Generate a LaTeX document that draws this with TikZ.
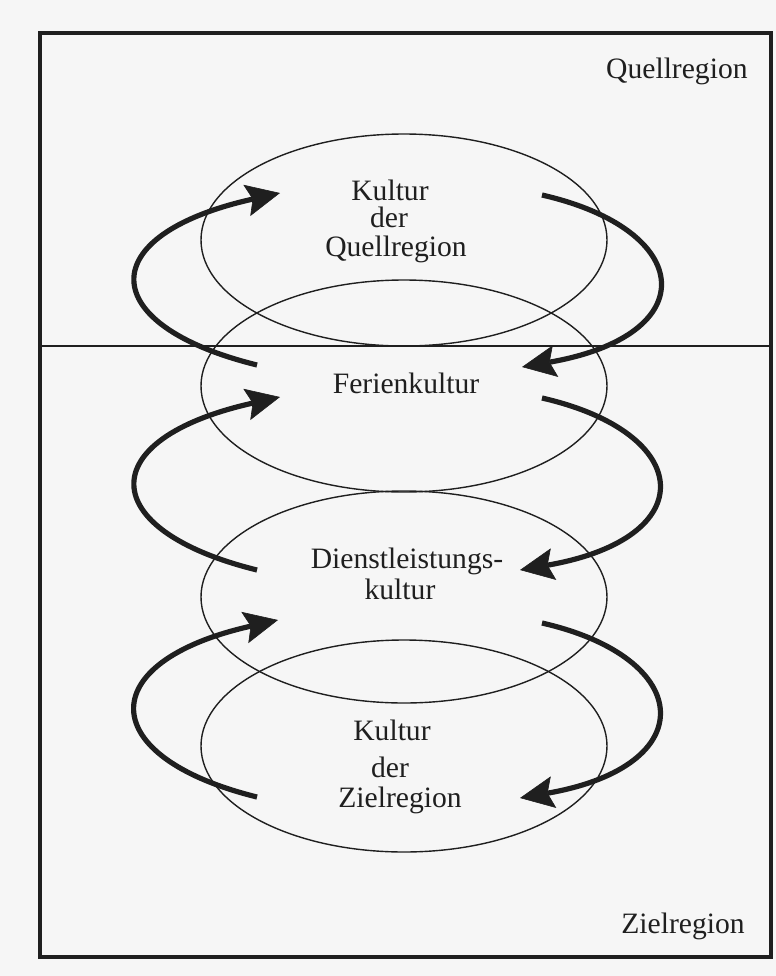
\documentclass[tikz,border=0pt]{standalone}
\usepackage{fontspec}
\setmainfont{Liberation Serif}
\usetikzlibrary{shapes.geometric,arrows.meta}
\definecolor{paper}{gray}{0.965}
\definecolor{ink}{gray}{0.12}
\tikzset{
  kreis/.style={ellipse, draw=ink, line width=0.7pt, minimum width=203pt, minimum height=106pt, inner sep=0pt},
  wort/.style={anchor=base, inner sep=0pt, text=ink, font=\fontsize{14.8pt}{17pt}\selectfont},
  zyklus/.style={draw=ink, line width=2.6pt, -{Stealth[length=17pt,width=16pt,inset=3pt,line width=0.3pt]}},
  rahmen/.style={draw=ink, line width=1.9pt},
  grenze/.style={draw=ink, line width=0.9pt}
}
\begin{document}
\begin{tikzpicture}[x=0.5pt,y=-0.5pt]
\path[fill=paper] (0,0) rectangle (776,976);
\useasboundingbox (0,0) rectangle (776,976);
% frame and border line
\draw[rahmen] (40,33) rectangle (771,957);
\coordinate (gl) at (40,346);
\coordinate (gr) at (771,346);
\draw[grenze] (gl) -- (gr);
% ellipses
\node[kreis] (e1) at (404,240) {};
\node[kreis] (e2) at (404,386) {};
\node[kreis] (e3) at (404,597) {};
\node[kreis] (e4) at (404,746) {};
% texts
\node[wort, anchor=base east] (quell) at (748,78) {Quellregion};
\node[wort, anchor=base east] (ziel) at (745,933) {Zielregion};
\node[wort] (t1a) at (390,200) {Kultur};
\node[wort] (t1b) at (389,227) {der};
\node[wort] (t1c) at (396,256) {Quellregion};
\node[wort] (t2a) at (406,393) {Ferienkultur};
\node[wort] (t3a) at (407,568) {Dienstleistungs-};
\node[wort] (t3b) at (400,599) {kultur};
\node[wort] (t4a) at (392,740) {Kultur};
\node[wort] (t4b) at (390,777) {der};
\node[wort] (t4c) at (400,807) {Zielregion};
% arrow end points
\coordinate (a1s) at (257,365); \coordinate (a1e) at (280,193);
\coordinate (a2s) at (257,570); \coordinate (a2e) at (280,397);
\coordinate (a3s) at (257,797); \coordinate (a3e) at (278,620);
\coordinate (b1s) at (542,195); \coordinate (b1e) at (522,367);
\coordinate (b2s) at (542,398); \coordinate (b2e) at (520,570);
\coordinate (b3s) at (542,623); \coordinate (b3e) at (520,798);
% left arrows (upward)
\draw[zyklus] (a1s) .. controls (95,325) and (92,235) .. (a1e);
\draw[zyklus] (a2s) .. controls (95,530) and (92,439) .. (a2e);
\draw[zyklus] (a3s) .. controls (95,757) and (92,662) .. (a3e);
% right arrows (downward)
\draw[zyklus] (b1s) .. controls (695,230) and (705,335) .. (b1e);
\draw[zyklus] (b2s) .. controls (695,433) and (703,538) .. (b2e);
\draw[zyklus] (b3s) .. controls (695,658) and (703,766) .. (b3e);
\end{tikzpicture}
\end{document}
